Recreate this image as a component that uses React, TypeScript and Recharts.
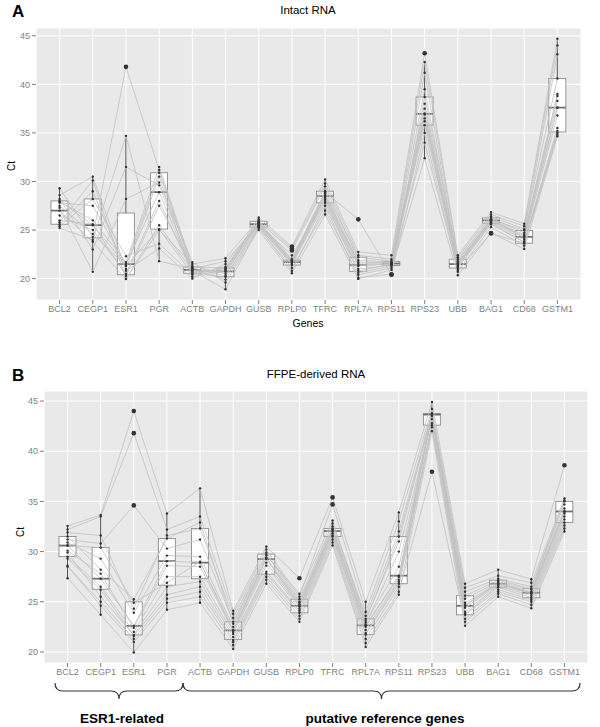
import React from 'react';
import { ComposedChart, Bar, Line, XAxis, YAxis, CartesianGrid } from 'recharts';

const genes = ['BCL2', 'CEGP1', 'ESR1', 'PGR', 'ACTB', 'GAPDH', 'GUSB', 'RPLP0', 'TFRC', 'RPL7A', 'RPS11', 'RPS23', 'UBB', 'BAG1', 'CD68', 'GSTM1'];
const yTicks = [20, 25, 30, 35, 40, 45];

// Intact RNA: Ct per sample (15 samples) for each gene
const intactBCL2 = [28.0, 25.8, 29.3, 25.4, 27.3, 26.5, 28.6, 25.2, 27.0, 27.9, 25.6, 28.2, 26.0, 27.5, 27.8];
const intactCEGP1 = [25.5, 30.1, 24.3, 28.2, 20.7, 25.0, 30.5, 24.0, 23.8, 26.0, 29.0, 23.0, 25.6, 24.6, 27.5];
const intactESR1 = [21.4, 20.0, 41.8, 22.3, 28.2, 20.5, 21.0, 34.7, 19.95, 21.7, 20.8, 31.5, 20.3, 21.3, 21.5];
const intactPGR = [30.9, 25.0, 31.2, 23.6, 29.9, 28.0, 30.5, 21.8, 25.5, 31.5, 23.1, 29.6, 27.5, 25.1, 28.9];
const intactACTB = [20.9, 21.5, 21.1, 20.4, 21.7, 20.6, 20.2, 21.0, 20.8, 21.3, 20.0, 20.9, 21.2, 20.5, 20.7];
const intactGAPDH = [20.7, 22.1, 20.3, 21.2, 19.6, 21.0, 20.9, 21.8, 18.9, 20.5, 21.5, 19.9, 21.1, 20.2, 20.8];
const intactGUSB = [25.6, 26.1, 25.4, 25.9, 25.0, 25.7, 26.3, 25.5, 25.3, 25.8, 25.9, 25.2, 25.7, 25.4, 25.6];
const intactRPLP0 = [21.7, 23.1, 21.4, 22.0, 20.55, 21.8, 23.3, 21.6, 20.8, 21.9, 22.9, 21.1, 21.7, 21.5, 22.4];
const intactTFRC = [28.5, 29.8, 28.2, 29.0, 26.6, 28.8, 30.2, 28.4, 27.5, 28.9, 29.5, 27.0, 28.6, 27.8, 28.0];
const intactRPL7A = [21.4, 22.4, 21.0, 22.2, 19.97, 21.6, 22.75, 21.3, 20.1, 26.1, 21.9, 20.4, 21.7, 20.6, 20.8];
const intactRPS11 = [21.5, 22.0, 21.4, 21.8, 20.9, 21.6, 22.4, 21.55, 20.45, 20.4, 21.7, 21.1, 21.6, 21.3, 21.5];
const intactRPS23 = [37.0, 42.3, 36.5, 39.5, 32.4, 38.0, 43.2, 36.9, 35.0, 38.7, 41.2, 34.0, 37.5, 35.8, 36.2];
const intactUBB = [21.5, 22.2, 21.3, 21.8, 20.35, 21.6, 22.4, 21.4, 20.7, 22.0, 21.6, 20.9, 21.5, 21.1, 21.2];
const intactBAG1 = [26.0, 26.6, 25.8, 26.4, 24.7, 26.1, 26.85, 25.9, 25.3, 26.25, 26.1, 24.65, 26.0, 25.6, 25.7];
const intactCD68 = [24.3, 25.4, 24.0, 25.1, 23.05, 24.5, 25.65, 24.2, 23.4, 24.7, 24.95, 23.65, 24.4, 23.8, 23.7];
const intactGSTM1 = [37.6, 44.0, 36.8, 40.6, 34.65, 38.3, 44.7, 37.6, 35.0, 39.0, 43.1, 34.8, 38.8, 35.2, 35.5];

// Intact RNA: box statistics per gene
const intactLow = [25.2, 20.7, 19.95, 21.8, 20.0, 18.9, 25.0, 20.55, 26.6, 19.97, 20.8, 32.4, 20.35, 25.3, 23.05, 34.65];
const intactQ1 = [25.6, 24.2, 20.4, 25.1, 20.55, 20.2, 25.3, 21.4, 27.8, 20.75, 21.35, 35.8, 21.1, 25.7, 23.65, 35.1];
const intactMedian = [27.0, 25.5, 21.5, 28.9, 20.9, 20.75, 25.6, 21.7, 28.5, 21.4, 21.55, 36.95, 21.5, 26.0, 24.3, 37.6];
const intactQ3 = [28.0, 28.2, 26.75, 30.9, 21.2, 21.1, 25.9, 21.9, 29.0, 22.2, 21.75, 38.7, 22.0, 26.25, 24.95, 40.6];
const intactHigh = [29.3, 30.6, 34.7, 31.5, 21.75, 22.2, 26.3, 22.4, 30.2, 22.75, 22.4, 42.3, 22.4, 26.85, 25.65, 44.7];

// FFPE-derived RNA: Ct per sample (15 samples) for each gene
const ffpeBCL2 = [30.6, 32.2, 29.5, 31.9, 27.35, 30.9, 32.55, 30.1, 28.5, 31.2, 31.5, 28.6, 30.6, 29.3, 29.9];
const ffpeCEGP1 = [27.3, 33.5, 26.5, 31.6, 23.7, 29.3, 33.65, 27.8, 25.0, 30.8, 28.2, 24.6, 30.4, 26.2, 25.5];
const ffpeESR1 = [22.6, 41.8, 22.0, 24.3, 19.95, 23.9, 44.0, 22.4, 21.3, 34.6, 25.25, 21.0, 24.9, 21.6, 21.7];
const ffpePGR = [29.05, 32.2, 27.5, 31.6, 24.2, 29.6, 33.8, 28.6, 25.3, 30.3, 31.3, 24.9, 26.9, 25.7, 26.5];
const ffpeACTB = [28.9, 33.5, 27.5, 32.3, 24.9, 29.5, 36.3, 28.5, 26.0, 31.2, 32.9, 25.5, 29.0, 26.5, 27.0];
const ffpeGAPDH = [22.15, 23.8, 21.8, 23.4, 20.3, 22.5, 24.1, 22.0, 21.0, 23.0, 22.8, 20.7, 22.2, 21.2, 21.5];
const ffpeGUSB = [29.25, 30.2, 28.6, 29.9, 26.8, 29.4, 30.5, 28.9, 27.5, 29.75, 29.6, 27.2, 29.3, 27.8, 28.0];
const ffpeRPLP0 = [24.6, 25.5, 24.3, 25.25, 23.0, 24.9, 27.35, 24.5, 23.6, 25.0, 25.8, 23.3, 24.7, 23.9, 24.1];
const ffpeTFRC = [32.05, 34.7, 31.8, 32.8, 30.6, 32.3, 35.4, 32.0, 31.2, 32.5, 33.1, 30.9, 32.2, 31.5, 31.6];
const ffpeRPL7A = [22.65, 24.0, 22.2, 23.6, 20.5, 22.9, 25.0, 22.5, 21.3, 23.3, 23.1, 20.9, 22.7, 21.75, 21.9];
const ffpeRPS11 = [27.6, 33.0, 27.2, 32.0, 25.7, 28.5, 33.9, 27.5, 26.5, 31.0, 31.5, 26.0, 30.0, 26.8, 27.0];
const ffpeRPS23 = [43.6, 44.2, 43.5, 43.8, 42.0, 43.65, 44.9, 43.6, 42.4, 43.75, 43.7, 37.95, 43.2, 42.6, 42.8];
const ffpeUBB = [24.6, 26.4, 24.0, 25.6, 22.6, 24.9, 26.8, 24.4, 23.3, 25.3, 26.0, 23.0, 24.7, 23.7, 23.8];
const ffpeBAG1 = [26.8, 27.6, 26.6, 27.15, 25.5, 26.9, 28.2, 26.7, 26.0, 27.0, 27.3, 25.8, 26.8, 26.2, 26.45];
const ffpeCD68 = [25.9, 26.9, 25.6, 26.3, 24.35, 26.0, 27.25, 25.8, 25.0, 26.2, 26.5, 24.7, 25.9, 25.2, 25.4];
const ffpeGSTM1 = [34.0, 35.3, 33.5, 35.0, 32.0, 34.3, 38.6, 33.8, 32.6, 34.7, 35.1, 32.3, 34.0, 32.9, 33.2];

// FFPE-derived RNA: box statistics per gene
const ffpeLow = [27.35, 23.7, 19.95, 24.2, 24.9, 20.3, 26.8, 23.0, 30.6, 20.5, 25.7, 42.0, 22.6, 25.5, 24.35, 32.0];
const ffpeQ1 = [29.5, 26.25, 21.7, 26.65, 27.3, 21.25, 27.75, 23.9, 31.5, 21.75, 26.8, 42.6, 23.7, 26.45, 25.4, 32.9];
const ffpeMedian = [30.6, 27.3, 22.6, 29.05, 28.9, 22.15, 29.25, 24.6, 32.05, 22.65, 27.6, 43.65, 24.6, 26.8, 25.9, 34.0];
const ffpeQ3 = [31.5, 30.4, 25.0, 31.3, 32.3, 23.0, 29.75, 25.25, 32.3, 23.3, 31.5, 43.75, 25.6, 27.15, 26.3, 35.0];
const ffpeHigh = [32.55, 33.65, 25.25, 33.8, 36.3, 24.1, 30.5, 25.8, 33.1, 25.0, 33.9, 44.9, 26.8, 28.2, 27.25, 35.3];

const intactSamples = [intactBCL2, intactCEGP1, intactESR1, intactPGR, intactACTB, intactGAPDH, intactGUSB, intactRPLP0, intactTFRC, intactRPL7A, intactRPS11, intactRPS23, intactUBB, intactBAG1, intactCD68, intactGSTM1];
const ffpeSamples = [ffpeBCL2, ffpeCEGP1, ffpeESR1, ffpePGR, ffpeACTB, ffpeGAPDH, ffpeGUSB, ffpeRPLP0, ffpeTFRC, ffpeRPL7A, ffpeRPS11, ffpeRPS23, ffpeUBB, ffpeBAG1, ffpeCD68, ffpeGSTM1];
const sampleKeys = intactBCL2.map((_, i) => 's' + i);

function buildRows(samples: number[][], lo: number[], q1: number[], med: number[], q3: number[], hi: number[]) {
  return genes.map((gene, i) => {
    const row: any = { gene, box: [q1[i], q3[i]], whisk: [lo[i], hi[i]], q1: q1[i], med: med[i], q3: q3[i], lo: lo[i], hi: hi[i] };
    samples[i].forEach((v, s) => { row['s' + s] = v; });
    return row;
  });
}

const intactRows = buildRows(intactSamples, intactLow, intactQ1, intactMedian, intactQ3, intactHigh);
const ffpeRows = buildRows(ffpeSamples, ffpeLow, ffpeQ1, ffpeMedian, ffpeQ3, ffpeHigh);

const BoxShape = (props: any) => {
  const { x, y, width, height, payload } = props;
  const top = Math.min(y, y + height);
  const h = Math.abs(height);
  const medY = top + h * (payload.q3 - payload.med) / (payload.q3 - payload.q1);
  return (
    <g>
      <rect x={x} y={top} width={width} height={h} fill="#fff" stroke="#8c8c8c" strokeWidth={0.9} />
      <line x1={x} x2={x + width} y1={medY} y2={medY} stroke="#6e6e6e" strokeWidth={1.8} />
    </g>
  );
};

const WhiskerShape = (props: any) => {
  const { x, y, width, height } = props;
  const top = Math.min(y, y + height);
  const cx = x + width / 2;
  return <line x1={cx} x2={cx} y1={top} y2={top + Math.abs(height)} stroke="#555" strokeWidth={1} />;
};

const renderDot = (props: any) => {
  const { cx, cy, value, payload, index } = props;
  if (cx == null || cy == null) return <g key={'e' + index} />;
  const out = value > payload.hi + 1e-6 || value < payload.lo - 1e-6;
  return <circle key={'d' + index} cx={cx} cy={cy} r={out ? 2.3 : 1.2} fill="#333" stroke="none" />;
};

const tickStyle = { fill: '#7f7f7f', fontSize: 9, fontFamily: 'Liberation Sans, Arial, sans-serif' };

function Panel({ rows, height, top, yWidth, right, domain, xHeight }: any) {
  const pad = { left: 7, right: 7 };
  return (
    <ComposedChart width={600} height={height} data={rows} margin={{ top, right, bottom: 0, left: 0 }}>
      <CartesianGrid fill="#e9e9e9" stroke="#ffffff" strokeWidth={1} />
      <XAxis dataKey="gene" type="category" padding={pad} height={xHeight} axisLine={false}
        tickLine={{ stroke: '#7f7f7f' }} tickSize={4} tickMargin={2} tick={tickStyle} interval={0} />
      <XAxis xAxisId="w" dataKey="gene" type="category" padding={pad} hide />
      <YAxis type="number" domain={domain} ticks={yTicks} width={yWidth} axisLine={false}
        tickLine={{ stroke: '#7f7f7f' }} tickSize={4} tickMargin={2} tick={tickStyle} allowDataOverflow />
      <Bar xAxisId="w" dataKey="whisk" barSize={17} shape={WhiskerShape} isAnimationActive={false} />
      <Bar dataKey="box" barSize={17} shape={BoxShape} isAnimationActive={false} />
      {sampleKeys.map((k) => (
        <Line key={'l' + k} dataKey={k} type="linear" stroke="#c2c2c2" strokeWidth={0.8} dot={false} activeDot={false} isAnimationActive={false} />
      ))}
      {sampleKeys.map((k) => (
        <Line key={'p' + k} dataKey={k} type="linear" stroke="none" dot={renderDot} activeDot={false} isAnimationActive={false} />
      ))}
    </ComposedChart>
  );
}

function brace(x1: number, x2: number, y0: number, y1: number, y2: number) {
  const xm = (x1 + x2) / 2;
  const r = 8;
  return `M${x1},${y0} Q${x1},${y1} ${x1 + r},${y1} L${xm - r},${y1} Q${xm},${y1} ${xm},${y2} Q${xm},${y1} ${xm + r},${y1} L${x2 - r},${y1} Q${x2},${y1} ${x2},${y0}`;
}

export default function App() {
  const font = 'Liberation Sans, Arial, sans-serif';
  return (
    <div style={{ position: 'absolute', left: 0, top: 0, width: 600, height: 727, background: '#fff' }}>
      <div style={{ position: 'absolute', left: 0, top: 0 }}>
        <Panel rows={intactRows} height={340} top={28} yWidth={36} right={19} domain={[17.8, 45.8]} xHeight={40} />
      </div>
      <div style={{ position: 'absolute', left: 0, top: 345 }}>
        <Panel rows={ffpeRows} height={340} top={46} yWidth={44} right={12} domain={[18.9, 46.0]} xHeight={22} />
      </div>
      <svg width={600} height={727} style={{ position: 'absolute', left: 0, top: 0, pointerEvents: 'none' }} fontFamily={font}>
        <text x={12} y={17} fontSize={17} fontWeight="bold" fill="#000">A</text>
        <text x={308} y={14} fontSize={11.5} textAnchor="middle" fill="#000">Intact RNA</text>
        <text x={15} y={166} fontSize={10} textAnchor="middle" transform="rotate(-90 15 166)" fill="#000">Ct</text>
        <text x={308} y={327} fontSize={10.5} textAnchor="middle" fill="#000">Genes</text>

        <text x={12} y={381} fontSize={17} fontWeight="bold" fill="#000">B</text>
        <text x={316} y={378} fontSize={11.5} textAnchor="middle" fill="#000">FFPE-derived RNA</text>
        <text x={23.5} y={532} fontSize={10} textAnchor="middle" transform="rotate(-90 23.5 532)" fill="#000">Ct</text>

        <path d={brace(55, 183, 683, 691, 699)} fill="none" stroke="#333" strokeWidth={1.2} />
        <path d={brace(183, 580, 683, 691, 699)} fill="none" stroke="#333" strokeWidth={1.2} />
        <text x={122} y={723} fontSize={13.5} fontWeight="bold" textAnchor="middle" fill="#000">ESR1-related</text>
        <text x={385} y={723} fontSize={13.5} fontWeight="bold" textAnchor="middle" fill="#000">putative reference genes</text>
      </svg>
    </div>
  );
}
